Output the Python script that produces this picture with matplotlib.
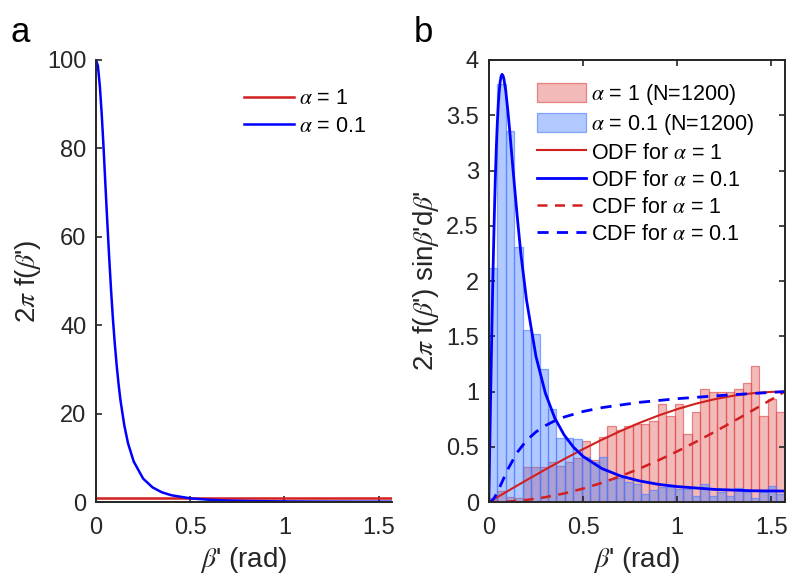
import matplotlib
matplotlib.use("Agg")
import matplotlib.pyplot as plt
import numpy as np

plt.rcParams['font.family'] = ['Liberation Sans', 'DejaVu Sans']
plt.rcParams['mathtext.fontset'] = 'stix'

ink = '#262626'
red_line = '#d21f1f'
blue_line = '#0000ff'

# ---- panel a: 2*pi*f(beta') ----
beta_a = [0, 0.01, 0.02, 0.03, 0.04, 0.05, 0.06, 0.07, 0.08, 0.09, 0.10,
          0.11, 0.12, 0.13, 0.15, 0.17, 0.20, 0.25, 0.30, 0.35, 0.40, 0.50,
          0.60, 0.70, 0.80, 0.90, 1.0, 1.2, 1.4, 1.5708]
f_a01 = [100, 98.7, 94.3, 88.0, 80.3, 71.7, 63.3, 55.3, 47.9, 41.3, 35.7,
         30.8, 26.6, 23.0, 17.4, 13.3, 9.2, 5.33, 3.34, 2.22, 1.56, 0.864,
         0.538, 0.366, 0.267, 0.206, 0.167, 0.123, 0.105, 0.1]
beta_flat = [0, 1.5708]
f_a1 = [1, 1]

# ---- panel b: histograms (35 bins over 0..pi/2, density) ----
hist_a1 = [0.04, 0.10, 0.045, 0.04, 0.315, 0.315, 0.315, 0.36, 0.33, 0.36,
           0.40, 0.55, 0.38, 0.59, 0.685, 0.655, 0.69, 0.71, 0.71, 0.73,
           0.89, 0.78, 0.89, 0.615, 0.82, 1.025, 1.0, 1.0, 1.0, 1.025,
           1.08, 1.23, 0.78, 0.93, 0.82]
hist_a01 = [2.12, 3.78, 3.36, 2.31, 1.56, 1.52, 1.206, 0.84, 0.58, 0.58,
            0.57, 0.41, 0.36, 0.41, 0.206, 0.22, 0.18, 0.163, 0.073, 0.109,
            0.14, 0.14, 0.12, 0.12, 0.055, 0.163, 0.055, 0.094, 0.055, 0.13,
            0.094, 0.036, 0.094, 0.145, 0.073]

# ODF and CDF curves
beta_b01 = [0, 0.005, 0.01, 0.015, 0.02, 0.025, 0.03, 0.035, 0.04, 0.045,
            0.05, 0.055, 0.06, 0.065, 0.07, 0.075, 0.08, 0.09, 0.10, 0.11,
            0.12, 0.13, 0.15, 0.17, 0.20, 0.25, 0.30, 0.35, 0.40, 0.45, 0.50,
            0.60, 0.70, 0.80, 0.90, 1.0, 1.2, 1.4, 1.5708]
odf_a01 = [0, 0.50, 0.99, 1.45, 1.89, 2.28, 2.64, 2.95, 3.21, 3.42,
           3.59, 3.71, 3.80, 3.85, 3.87, 3.86, 3.83, 3.72, 3.56, 3.38,
           3.18, 2.98, 2.60, 2.25, 1.83, 1.32, 0.987, 0.761, 0.607, 0.496,
           0.414, 0.304, 0.236, 0.192, 0.161, 0.141, 0.115, 0.103, 0.1]
beta_cdf01 = [0, 0.01, 0.02, 0.03, 0.04, 0.05, 0.07, 0.10, 0.15, 0.20, 0.25,
              0.30, 0.35, 0.40, 0.50, 0.60, 0.80, 1.0, 1.2, 1.4, 1.5708]
cdf_a01 = [0, 0.005, 0.019, 0.042, 0.072, 0.106, 0.181, 0.294, 0.448, 0.558,
           0.635, 0.692, 0.736, 0.770, 0.820, 0.855, 0.903, 0.936, 0.961,
           0.983, 1.0]
beta_b1 = [0, 0.1, 0.2, 0.3, 0.4, 0.5, 0.6, 0.7, 0.8, 0.9, 1.0, 1.1, 1.2,
           1.3, 1.4, 1.5, 1.5708]
odf_a1 = [0, 0.0998, 0.1987, 0.2955, 0.3894, 0.4794, 0.5646, 0.6442, 0.7174,
          0.7833, 0.8415, 0.8912, 0.9320, 0.9636, 0.9854, 0.9975, 1.0]
cdf_a1 = [0, 0.005, 0.0199, 0.0447, 0.0789, 0.1224, 0.1747, 0.2352, 0.3033,
          0.3784, 0.4597, 0.5464, 0.6376, 0.7325, 0.8300, 0.9293, 1.0]

xticks = [0, 0.5, 1, 1.5]


def style_axes(ax, box):
    ax.tick_params(direction='in', length=4, width=1.2, labelsize=17,
                   colors=ink, top=box, right=box)
    ax.tick_params(axis='y', pad=7)
    ax.tick_params(axis='x', pad=11)
    for s in ax.spines.values():
        s.set_linewidth(1.4)
        s.set_color(ink)
    if not box:
        ax.spines['top'].set_visible(False)
        ax.spines['right'].set_visible(False)
    ax.set_xlim(0, np.pi / 2)
    ax.set_xticks(xticks)
    ax.set_xticklabels(['%g' % t for t in xticks])
    ax.set_xlabel(r"$\beta$' (rad)", fontsize=20, color=ink, labelpad=4)


fig = plt.figure(figsize=(8, 5.88), dpi=100)

ax1 = fig.add_axes([0.12, 0.146, 0.37, 0.752])
ax1.plot(beta_flat, f_a1, color=red_line, lw=1.8, label=r'$\alpha$ = 1')
ax1.plot(beta_a, f_a01, color=blue_line, lw=1.8, label=r'$\alpha$ = 0.1')
ax1.set_ylim(0, 100)
ax1.set_yticks([0, 20, 40, 60, 80, 100])
style_axes(ax1, False)
ax1.set_ylabel(r"2$\pi$ f($\beta$')", fontsize=20, color=ink)
ax1.yaxis.set_label_coords(-0.178, 0.5)
ax1.legend(loc='upper left', bbox_to_anchor=(0.436, 0.98), frameon=False,
           fontsize=15.5, handlelength=2.3, handletextpad=0.25,
           labelspacing=0.3)

ax2 = fig.add_axes([0.611, 0.146, 0.37, 0.752])
edges = np.linspace(0, np.pi / 2, len(hist_a1) + 1)
width = edges[1] - edges[0]
b1 = ax2.bar(edges[:-1], hist_a1, width=width, align='edge',
             facecolor=(0.88, 0.25, 0.25, 0.36),
             edgecolor=(0.88, 0.3, 0.3, 0.65), lw=0.9)
b2 = ax2.bar(edges[:-1], hist_a01, width=width, align='edge',
             facecolor=(0.25, 0.48, 1.0, 0.40),
             edgecolor=(0.3, 0.5, 1.0, 0.65), lw=0.9)
l1, = ax2.plot(beta_b1, odf_a1, color=red_line, lw=1.5)
l2, = ax2.plot(beta_b01, odf_a01, color=blue_line, lw=2.0)
l3, = ax2.plot(beta_b1, cdf_a1, color=red_line, lw=1.8, ls=(0, (4, 3)))
l4, = ax2.plot(beta_cdf01, cdf_a01, color=blue_line, lw=2.0, ls=(0, (4, 3)))
ax2.set_ylim(0, 4)
yt = [0, 0.5, 1, 1.5, 2, 2.5, 3, 3.5, 4]
ax2.set_yticks(yt)
ax2.set_yticklabels(['%g' % t for t in yt])
style_axes(ax2, True)
ax2.set_ylabel(r"2$\pi$ f($\beta$') sin$\beta$'d$\beta$'", fontsize=20,
               color=ink)
ax2.yaxis.set_label_coords(-0.16, 0.5)
labels_b = [r'$\alpha$ = 1 (N=1200)', r'$\alpha$ = 0.1 (N=1200)',
            r'ODF for $\alpha$ = 1', r'ODF for $\alpha$ = 0.1',
            r'CDF for $\alpha$ = 1', r'CDF for $\alpha$ = 0.1']
ax2.legend([b1, b2, l1, l2, l3, l4], labels_b, loc='upper left',
           bbox_to_anchor=(0.096, 0.995), frameon=False, fontsize=15.5,
           handlelength=2.3, handleheight=1.0, handletextpad=0.25,
           labelspacing=0.24)

fig.text(0.013, 0.945, 'a', fontsize=25, color='black', va='center')
fig.text(0.517, 0.945, 'b', fontsize=25, color='black', va='center')

fig.savefig('out.png', dpi=100)
